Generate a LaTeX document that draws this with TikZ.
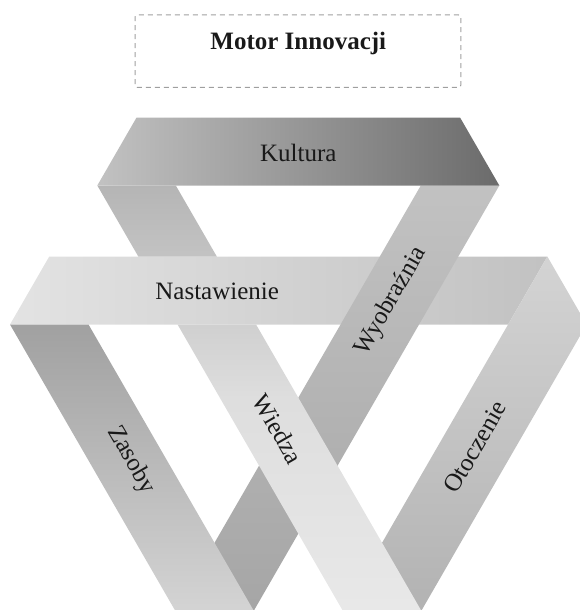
\documentclass[tikz,border=0pt]{standalone}
\usepackage{fontspec}
\setmainfont{Liberation Serif}
\definecolor{kL}{gray}{0.76}
\definecolor{kR}{gray}{0.42}
\definecolor{nL}{gray}{0.89}
\definecolor{nR}{gray}{0.76}
\definecolor{wiT}{gray}{0.71}
\definecolor{wiM}{gray}{0.87}
\definecolor{wiB}{gray}{0.91}
\definecolor{wyT}{gray}{0.76}
\definecolor{wyB}{gray}{0.65}
\definecolor{zaT}{gray}{0.63}
\definecolor{zaB}{gray}{0.83}
\definecolor{otT}{gray}{0.83}
\definecolor{otB}{gray}{0.70}
\begin{document}
\begin{tikzpicture}[x=1pt,y=-1pt,
  lbl/.style={font=\fontsize{25}{30}\selectfont, text=black!90, inner sep=0pt},
  framebox/.style={draw=gray!75, dash pattern=on 5pt off 4pt, line width=1pt, rounded corners=2pt}]
\useasboundingbox (0,0) rectangle (580,610);
\begin{scope}
\clip (0,0) rectangle (580,610);
% Nastawienie
\path[left color=nL, right color=nR] (10,324.5) -- (49.26,256.5) -- (547.34,256.5) -- (508.08,324.5) -- cycle;
% Otoczenie
\path[top color=otT, bottom color=otB] (547.34,256.5) -- (586.6,324.5) -- (421.77,610) -- (343.25,610) -- cycle;
% Wyobraznia
\path[top color=wyT, bottom color=wyB] (420.8,185.5) -- (499.3,185.5) -- (254.21,610) -- (175.71,610) -- cycle;
% Zasoby
\path[top color=zaT, bottom color=zaB] (10,324.5) -- (88.5,324.5) -- (253.33,610) -- (174.83,610) -- cycle;
% Wiedza (two visible pieces)
\path[top color=wiT, bottom color=wiB, middle color=wiM]
  (97.3,185.5) -- (175.8,185.5) -- (216.8,256.5) -- (138.3,256.5) -- cycle
  (177.55,324.5) -- (256.05,324.5) -- (420.89,610) -- (342.39,610) -- cycle;
% Kultura
\path[left color=kL, right color=kR] (97.3,185.5) -- (136.56,117.5) -- (460.04,117.5) -- (499.3,185.5) -- cycle;
\end{scope}
% labels
\node[framebox, minimum width=325.7pt, minimum height=72.3pt] (motorbox) at (297.9,51.15) {};
\node[lbl, font=\fontsize{25}{30}\selectfont\bfseries, anchor=base] (motor) at (298.3,50) {Motor Innovacji};
\node[lbl, anchor=base] (kultura) at (298.3,161.7) {Kultura};
\node[lbl, anchor=base] (nastawienie) at (217.2,299) {Nastawienie};
\node[lbl, rotate=60] (wyobraznia) at (391,301.5) {Wyobraźnia};
\node[lbl, rotate=-60] (wiedza) at (278,429) {Wiedza};
\node[lbl, rotate=-60] (zasoby) at (131,460) {Zasoby};
\node[lbl, rotate=60] (otoczenie) at (475,447) {Otoczenie};
\end{tikzpicture}
\end{document}
